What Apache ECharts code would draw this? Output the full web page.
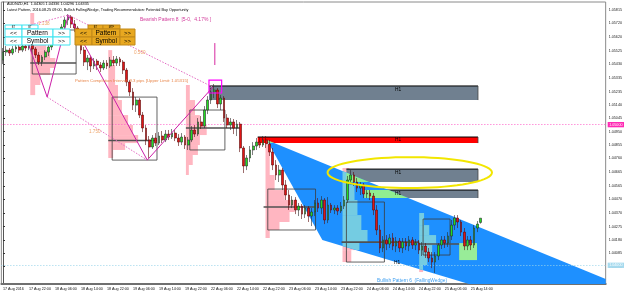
<!DOCTYPE html>
<html><head><meta charset="utf-8">
<script src="https://cdn.jsdelivr.net/npm/echarts@6/dist/echarts.min.js"></script>
<style>html,body{margin:0;padding:0;background:#fff}#c{width:625px;height:295px}</style>
</head><body><div id="c"></div>
<script>
const FONT = '"Liberation Sans", Arial, sans-serif';
// ---- axis data ----
const sessions = [['17 Aug',14,23],['18 Aug',0,23],['19 Aug',0,23],['22 Aug',0,23],['23 Aug',0,23],['24 Aug',0,23],['25 Aug',0,17]];
const tickLabels = ['17 Aug 2016','17 Aug 22:00','18 Aug 06:00','18 Aug 14:00','18 Aug 22:00','19 Aug 06:00','19 Aug 14:00','19 Aug 22:00','22 Aug 06:00','22 Aug 14:00','22 Aug 22:00','23 Aug 06:00','23 Aug 14:00','23 Aug 22:00','24 Aug 06:00','24 Aug 14:00','24 Aug 22:00','25 Aug 06:00','25 Aug 14:00'];
const yTickValues = [1.05815,1.05720,1.05620,1.05525,1.05430,1.05335,1.05235,1.05140,1.05045,1.04950,1.04855,1.04760,1.04665,1.04565,1.04470,1.04370,1.04275,1.04180,1.04085,1.03990];
const TOTAL_SLOTS = 186;
const Y_MIN = 1.03867, Y_MAX = 1.05872;

// ---- candles ----
const opens = [1.05459,1.05516,1.05530,1.05509,1.05538,1.05552,1.05530,1.05559,1.05545,1.05566,
1.05538,1.05495,1.05445,1.05481,1.05516,1.05552,1.05602,1.05651,1.05630,1.05694,
1.05744,1.05765,1.05715,1.05687,1.05616,1.05530,1.05445,1.05474,1.05417,1.05452,
1.05424,1.05403,1.05438,1.05417,1.05459,1.05438,1.05467,1.05445,1.05388,1.05303,
1.05232,1.05139,1.05175,1.05068,1.04976,1.04891,1.04841,1.04905,1.04869,1.04919,
1.04891,1.04933,1.04912,1.04940,1.04905,1.04876,1.04912,1.04855,1.04891,1.04962,
1.04933,1.05019,1.04990,1.05104,1.05175,1.05232,1.05246,1.05147,1.05189,1.05047,
1.04997,1.05019,1.04976,1.05004,1.04834,1.04706,1.04763,1.04820,1.04848,1.04876,
1.04855,1.04891,1.04862,1.04805,1.04713,1.04642,1.04677,1.04571,1.04500,1.04428,
1.04464,1.04393,1.04421,1.04364,1.04407,1.04350,1.04379,1.04443,1.04407,1.04464,
1.04322,1.04428,1.04393,1.04407,1.04386,1.04421,1.04464,1.04606,1.04642,1.04592,
1.04549,1.04571,1.04507,1.04514,1.04492,1.04393,1.04251,1.04123,1.04180,1.04151,
1.04194,1.04137,1.04172,1.04123,1.04165,1.04137,1.04180,1.04144,1.04158,1.04108,
1.04137,1.04094,1.04052,1.04023,1.04066,1.04144,1.04180,1.04158,1.04208,1.04286,
1.04336,1.04308,1.04236,1.04137,1.04180,1.04144,1.04265,1.04305];
const closes = [1.05516,1.05530,1.05509,1.05538,1.05552,1.05530,1.05559,1.05545,1.05566,1.05538,
1.05495,1.05445,1.05481,1.05516,1.05552,1.05602,1.05651,1.05630,1.05694,1.05744,
1.05765,1.05715,1.05687,1.05616,1.05530,1.05445,1.05474,1.05417,1.05452,1.05424,
1.05403,1.05438,1.05417,1.05459,1.05438,1.05467,1.05445,1.05388,1.05303,1.05232,
1.05139,1.05175,1.05068,1.04976,1.04891,1.04841,1.04905,1.04869,1.04919,1.04891,
1.04933,1.04912,1.04940,1.04905,1.04876,1.04912,1.04855,1.04891,1.04962,1.04933,
1.05019,1.04990,1.05104,1.05175,1.05232,1.05246,1.05147,1.05189,1.05047,1.04997,
1.05019,1.04976,1.05004,1.04834,1.04706,1.04763,1.04820,1.04848,1.04876,1.04855,
1.04891,1.04862,1.04805,1.04713,1.04642,1.04677,1.04571,1.04500,1.04428,1.04464,
1.04393,1.04421,1.04364,1.04407,1.04350,1.04379,1.04443,1.04407,1.04464,1.04322,
1.04428,1.04393,1.04407,1.04386,1.04421,1.04464,1.04606,1.04642,1.04592,1.04549,
1.04571,1.04507,1.04514,1.04492,1.04393,1.04251,1.04123,1.04180,1.04151,1.04194,
1.04137,1.04172,1.04123,1.04165,1.04137,1.04180,1.04144,1.04158,1.04108,1.04137,
1.04094,1.04052,1.04023,1.04066,1.04144,1.04180,1.04158,1.04208,1.04286,1.04336,
1.04308,1.04236,1.04137,1.04180,1.04144,1.04265,1.04293,1.04335];
const highs = [1.05545,1.05559,1.05545,1.05559,1.05573,1.05566,1.05580,1.05580,1.05587,1.05573,
1.05552,1.05516,1.05495,1.05530,1.05566,1.05616,1.05673,1.05680,1.05715,1.05765,
1.05786,1.05779,1.05744,1.05701,1.05637,1.05552,1.05495,1.05488,1.05474,1.05467,
1.05445,1.05459,1.05459,1.05481,1.05488,1.05488,1.05481,1.05459,1.05403,1.05317,
1.05260,1.05196,1.05189,1.05090,1.04997,1.04919,1.04926,1.04940,1.04947,1.04955,
1.04962,1.04962,1.04969,1.04962,1.04933,1.04940,1.04926,1.04912,1.04990,1.04997,
1.05047,1.05061,1.05132,1.05203,1.05260,1.05289,1.05260,1.05210,1.05203,1.05075,
1.05047,1.05040,1.05033,1.05019,1.04848,1.04784,1.04848,1.04876,1.04905,1.04912,
1.04919,1.04919,1.04891,1.04834,1.04748,1.04713,1.04692,1.04606,1.04535,1.04492,
1.04485,1.04443,1.04436,1.04428,1.04421,1.04407,1.04464,1.04478,1.04492,1.04478,
1.04485,1.04443,1.04428,1.04428,1.04450,1.04492,1.04635,1.04677,1.04663,1.04620,
1.04592,1.04585,1.04535,1.04535,1.04514,1.04428,1.04286,1.04208,1.04215,1.04222,
1.04229,1.04201,1.04194,1.04194,1.04194,1.04208,1.04201,1.04187,1.04180,1.04165,
1.04158,1.04123,1.04094,1.04094,1.04158,1.04208,1.04208,1.04236,1.04322,1.04357,
1.04357,1.04322,1.04265,1.04208,1.04208,1.04286,1.04315,1.04336];
const lows = [1.05431,1.05488,1.05488,1.05495,1.05516,1.05509,1.05516,1.05523,1.05530,1.05516,
1.05474,1.05424,1.05417,1.05459,1.05488,1.05530,1.05580,1.05602,1.05616,1.05673,
1.05708,1.05687,1.05658,1.05587,1.05502,1.05417,1.05388,1.05374,1.05395,1.05388,
1.05374,1.05388,1.05395,1.05403,1.05417,1.05417,1.05417,1.05360,1.05274,1.05203,
1.05104,1.05090,1.05047,1.04947,1.04855,1.04763,1.04827,1.04848,1.04855,1.04869,
1.04876,1.04891,1.04898,1.04883,1.04848,1.04855,1.04827,1.04820,1.04876,1.04912,
1.04919,1.04969,1.04976,1.05075,1.05147,1.05189,1.05118,1.05104,1.05019,1.04976,
1.04962,1.04933,1.04919,1.04805,1.04656,1.04677,1.04734,1.04784,1.04820,1.04834,
1.04841,1.04834,1.04777,1.04677,1.04606,1.04592,1.04535,1.04464,1.04393,1.04407,
1.04364,1.04350,1.04329,1.04336,1.04308,1.04279,1.04350,1.04379,1.04364,1.04293,
1.04300,1.04372,1.04364,1.04357,1.04372,1.04400,1.04443,1.04578,1.04564,1.04521,
1.04500,1.04478,1.04478,1.04464,1.04357,1.04215,1.04087,1.04094,1.04108,1.04123,
1.04108,1.04094,1.04094,1.04087,1.04108,1.04101,1.04116,1.04108,1.04080,1.04066,
1.04052,1.04023,1.03980,1.03945,1.04037,1.04116,1.04123,1.04130,1.04180,1.04251,
1.04265,1.04208,1.04108,1.04108,1.04108,1.04123,1.04236,1.04296];

// ---- overlays (x = bar index, y = price) ----
// volume profiles: anchor bar, rows [top price, bottom price, right bar]
const profiles = [
 {anchor:8.4, rows:[[1.05794,1.05673,9.6],[1.05673,1.05587,11.5],[1.05587,1.05530,13.3],[1.05530,1.05474,14.5],[1.05474,1.05403,16.1],[1.05403,1.05353,14.5],[1.05353,1.05282,11.5],[1.05282,1.05210,9.9]]},
 {anchor:32.4, rows:[[1.05530,1.05424,33.6],[1.05424,1.05282,34.5],[1.05282,1.05175,35.4],[1.05175,1.05068,36.6],[1.05068,1.04997,38.5],[1.04997,1.04926,40.0],[1.04926,1.04869,41.6],[1.04869,1.04820,37.6],[1.04820,1.04763,33.9]]},
 {anchor:56.3, rows:[[1.05282,1.05175,57.5],[1.05175,1.05068,59.1],[1.05068,1.04997,60.6],[1.04997,1.04926,62.7],[1.04926,1.04855,60.6],[1.04855,1.04784,60.0],[1.04784,1.04713,58.4],[1.04713,1.04642,57.2]]},
 {anchor:80.8, rows:[[1.04855,1.04642,82.1],[1.04642,1.04535,83.6],[1.04535,1.04464,86.7],[1.04464,1.04379,89.8],[1.04379,1.04308,88.2],[1.04308,1.04251,85.1],[1.04251,1.04194,82.1]]},
 {anchor:104.5, rows:[[1.04692,1.04571,106.6],[1.04571,1.04464,108.2],[1.04464,1.04357,109.1],[1.04357,1.04251,110.3],[1.04251,1.04165,112.2],[1.04165,1.04108,109.7],[1.04108,1.04023,107.2]]},
 {anchor:128.1, rows:[[1.04372,1.04286,129.6],[1.04286,1.04215,131.2],[1.04215,1.04144,133.3],[1.04144,1.04073,132.1],[1.04073,1.04002,130.6],[1.04002,1.03952,129.3]]}
];
const zones = [[63.4,146.2,1.05275,1.05175],[78.4,146.2,1.04912,1.04869],[105.7,146.2,1.04684,1.04592],[111.2,146.2,1.04535,1.04478]];
const zoneFill = ['#708090','#ff0000','#708090','#708090'];
const greenBox = [[140.4,145.9,1.04158,1.04037]];
const boxes = [[9.0,22.5,1.05673,1.05360],[33.6,47.4,1.05196,1.04748],[57.5,68.3,1.05104,1.04820],[81.5,96.2,1.04542,1.04251],[105.7,117.4,1.04450,1.04023],[129.3,137.6,1.04329,1.04073]];
const pocLines = [[8.4,22.5,1.05438],[32.4,47.4,1.04887],[56.3,72.9,1.04976],[80.2,96.2,1.04414],[104.2,128.1,1.04165],[128.1,140.4,1.04151]];
const wedge = [[81.2,1.04891],[185.5,1.03902],[185.5,1.03575],[98.3,1.04180]];
const pattern = [[6.0,1.05694],[13.6,1.05196],[20.1,1.05779],[44.4,1.04748],[64.6,1.05267]];
const patternDotted = [[[6.0,1.05694],[20.1,1.05779]],[[13.6,1.05196],[44.4,1.04748]],[[20.1,1.05779],[64.6,1.05267]]];
const completionBox = [[63.4,67.3,1.05317,1.05225]];
const pinkTick = [[65.2,1.05580],[65.2,1.05424]];
const ellipse = {center:[125.2,1.04659], rxBars:25.3, ryPrice:0.00110};
const levels = [1.05000, 1.04000];
const bidPrice = 1.04335;

// ---- build ----
const categories = [];
sessions.forEach(([d,h0,h1]) => { for (let h=h0; h<=h1; h++) categories.push(d+' '+String(h).padStart(2,'0')+':00'); });
const NBARS = categories.length;
while (categories.length < TOTAL_SLOTS) categories.push('slot '+categories.length);
const candles = opens.map((o,i)=>[o, closes[i], lows[i], highs[i]]);
const profileRows = [];
profiles.forEach(p => p.rows.forEach(r => profileRows.push([p.anchor, r[2], r[0], r[1]])));

function rectPts(api,x0,x1,t,b){const a=api.coord([x0,t]),c=api.coord([x1,b]);return [[a[0],a[1]],[c[0],a[1]],[c[0],c[1]],[a[0],c[1]]];}
function clipPoly(subject, clip){
  let area=0; for(let i=0;i<clip.length;i++){const p=clip[i],q=clip[(i+1)%clip.length];area+=p[0]*q[1]-q[0]*p[1];}
  const s = area>0?1:-1; let out = subject;
  for (let i=0;i<clip.length;i++){
    const a=clip[i], b=clip[(i+1)%clip.length]; const inp=out; out=[]; if(!inp.length) break;
    const ins=p=>s*((b[0]-a[0])*(p[1]-a[1])-(b[1]-a[1])*(p[0]-a[0]))>=0;
    const inter=(p,q)=>{const a1=b[1]-a[1],b1=a[0]-b[0],c1=a1*a[0]+b1*a[1];const a2=q[1]-p[1],b2=p[0]-q[0],c2=a2*p[0]+b2*p[1];const det=a1*b2-a2*b1;return [(b2*c1-b1*c2)/det,(a1*c2-a2*c1)/det];};
    for (let j=0;j<inp.length;j++){const cur=inp[j],prev=inp[(j+inp.length-1)%inp.length];const ci=ins(cur),pi=ins(prev);
      if(ci){if(!pi)out.push(inter(prev,cur));out.push(cur);}else if(pi)out.push(inter(prev,cur));}
  }
  return out;
}
const wedgePx = api => wedge.map(p=>api.coord(p));
function overlapItem(api, fill){
  const pts = clipPoly(rectPts(api,api.value(0),api.value(1),api.value(2),api.value(3)), wedgePx(api));
  if (pts.length<3) return null;
  return {type:'polygon', shape:{points:pts}, style:{fill}};
}
const base = {type:'custom', xAxisIndex:1, yAxisIndex:0, silent:true, clip:true};

const series = [
 Object.assign({}, base, {name:'profile', z:1, data:profileRows,
   renderItem:(p,api)=>({type:'polygon', shape:{points:rectPts(api,api.value(0),api.value(1),api.value(2),api.value(3))}, style:{fill:'#ffb6c1'}})}),
 Object.assign({}, base, {name:'zones', z:2, data:zones,
   renderItem:(p,api)=>{const pts=rectPts(api,api.value(0),api.value(1),api.value(2),api.value(3));
     return {type:'group', children:[{type:'polygon', shape:{points:pts}, style:{fill:zoneFill[p.dataIndex]}},
       {type:'line', shape:{x1:pts[0][0],y1:pts[0][1],x2:pts[1][0],y2:pts[1][1]}, style:{stroke:'#000',lineWidth:1}},
       {type:'line', shape:{x1:pts[1][0],y1:pts[1][1],x2:pts[2][0],y2:pts[2][1]}, style:{stroke:'#444',lineWidth:0.8}}]};}}),
 Object.assign({}, base, {name:'greenBox', z:2, data:greenBox,
   renderItem:(p,api)=>({type:'polygon', shape:{points:rectPts(api,api.value(0),api.value(1),api.value(2),api.value(3))}, style:{fill:'#98e898', stroke:'#7a9a7a', lineWidth:0.8}})}),
 Object.assign({}, base, {name:'wedge', z:3, data:[[0]],
   renderItem:(p,api)=>({type:'polygon', shape:{points:wedgePx(api)}, style:{fill:'#1e90ff'}})}),
 Object.assign({}, base, {name:'profileOverlap', z:4, data:profileRows, renderItem:(p,api)=>overlapItem(api,'#74cce2')}),
 Object.assign({}, base, {name:'zoneOverlap', z:4, data:zones, renderItem:(p,api)=>overlapItem(api,'#90ee90')}),
 Object.assign({}, base, {name:'greenOverlap', z:4, data:greenBox, renderItem:(p,api)=>overlapItem(api,'#98ec98')}),
 Object.assign({}, base, {name:'boxes', z:5, data:boxes,
   renderItem:(p,api)=>({type:'polygon', shape:{points:rectPts(api,api.value(0),api.value(1),api.value(2),api.value(3))}, style:{fill:'none', stroke:'#3c3c3c', lineWidth:0.8}})}),
 Object.assign({}, base, {name:'poc', z:5, data:pocLines,
   renderItem:(p,api)=>{const a=api.coord([api.value(0),api.value(2)]),b=api.coord([api.value(1),api.value(2)]);
     return {type:'line', shape:{x1:a[0],y1:a[1],x2:b[0],y2:b[1]}, style:{stroke:'#505050',lineWidth:1.6}};}}),
 {type:'candlestick', name:'AUDNZD', xAxisIndex:0, yAxisIndex:0, z:6, silent:true, barWidth:2.2, data:candles,
   itemStyle:{color:'#22dd22', color0:'#e01515', borderColor:'#2a2a2a', borderColor0:'#5a0a0a', borderWidth:0.6},
   markLine:{silent:true, symbol:['none','none'], animation:false,
     label:{position:'end', distance:2, fontSize:3.7, fontFamily:FONT, padding:[0.8,1.5,0.5,1.5]},
     data:[
       {yAxis:levels[0], lineStyle:{color:'#ff5fc8', type:[1,2], width:1}, label:{formatter:levels[0].toFixed(5), backgroundColor:'#ff2ab4', color:'#fff'}},
       {yAxis:levels[1], lineStyle:{color:'#98d4ea', type:[1,2], width:1}, label:{formatter:levels[1].toFixed(5), backgroundColor:'#a6daee', color:'#fff'}},
       {yAxis:bidPrice, lineStyle:{opacity:0}, label:{formatter:bidPrice.toFixed(5), backgroundColor:'#000', color:'#fff'}}
     ]}},
 {type:'line', xAxisIndex:1, yAxisIndex:0, z:7, silent:true, symbol:'none', data:pattern, lineStyle:{color:'#cc1fa8', width:1}},
 ...patternDotted.map(seg=>({type:'line', xAxisIndex:1, yAxisIndex:0, z:7, silent:true, symbol:'none', data:seg, lineStyle:{color:'#e46cc4', width:1, type:[1.5,1.5]}})),
 {type:'line', xAxisIndex:1, yAxisIndex:0, z:7, silent:true, symbol:'none', data:pinkTick, lineStyle:{color:'#d62aa0', width:1}},
 Object.assign({}, base, {name:'completion', z:7, data:completionBox,
   renderItem:(p,api)=>({type:'polygon', shape:{points:rectPts(api,api.value(0),api.value(1),api.value(2),api.value(3))}, style:{fill:'none', stroke:'#ff00ff', lineWidth:1.2}})}),
 Object.assign({}, base, {name:'ellipse', z:7, data:[ellipse.center],
   renderItem:(p,api)=>{const c=api.coord(ellipse.center);const rx=api.coord([ellipse.center[0]+ellipse.rxBars,ellipse.center[1]])[0]-c[0];
     const ry=c[1]-api.coord([ellipse.center[0],ellipse.center[1]+ellipse.ryPrice])[1];const pts=[];
     for(let k=0;k<72;k++){const t=k/72*Math.PI*2;pts.push([c[0]+rx*Math.cos(t),c[1]+ry*Math.sin(t)]);}
     return {type:'polygon', shape:{points:pts}, style:{fill:'none', stroke:'#f2e600', lineWidth:2}};}})
];

// ---- annotations / panel ----
const g = [];
function txt(x,y,text,size,fill,align){g.push({type:'text', z:100, x, y, style:{text, fontSize:size, fontFamily:FONT, fill, align:align||'left', verticalAlign:'middle'}});}
function btn(x,y,w,h,label,fill,stroke,size){
  g.push({type:'rect', z:100, shape:{x,y,width:w,height:h}, style:{fill, stroke, lineWidth:1}});
  g.push({type:'text', z:101, x:x+w/2, y:y+h/2+0.3, style:{text:label, fontSize:size, fontFamily:FONT, fill:'#000', align:'center', verticalAlign:'middle'}});
}
txt(7,3.6,'AUDNZD,H1  1.04305 1.04336 1.04296 1.04335',3.8,'#000');
txt(7,9.6,'Latest Pattern, 2016.08.25 09:00, Bullish FallingWedge, Trading Recommendation: Potential Buy Opportunity',3.75,'#000');
txt(140,19.5,'Bearish Pattern 8  [5-0,  4.17% ]',5,'#d33c9c');
txt(38,23.5,'1.138',4.6,'#eea56a');
txt(134,53,'0.500',4.6,'#eea56a');
txt(75,81,'Pattern Completion Interval: 9.3 pips [Upper Limit: 1.05315]',4.3,'#e8864a');
txt(89,132,'1.750',4.6,'#eea56a');
txt(377,281,'Bullish Pattern 6  (FallingWedge)',4.8,'#3f9ff0');
[[398,89.5],[398,140],[398,172.5],[398,193.5],[397,262.5]].forEach(([x,y])=>txt(x,y,'H1',4.8,'#000','center'));
btn(5,25,17,4,'BT','#fff','#3fe4f0',2.6); btn(22,25,16,4,'BT','#fff','#3fe4f0',2.6);
btn(5,29,17,8,'<<','#fff','#3fe4f0',6); btn(22,29,31,8,'Pattern','#fff','#3fe4f0',6.5); btn(53,29,17,8,'>>','#fff','#3fe4f0',6);
btn(5,37,17,8,'<<','#fff','#3fe4f0',6); btn(22,37,31,8,'Symbol','#fff','#3fe4f0',6.5); btn(53,37,17,8,'>>','#fff','#3fe4f0',6);
btn(88,25,15,4,'BT','#e8a820','#c08818',2.6); btn(103,25,17,4,'MTF','#e8a820','#c08818',2.6);
btn(75,29,17,8,'<<','#e8a820','#c08818',6); btn(92,29,28,8,'Pattern','#e8a820','#c08818',6.5); btn(120,29,15,8,'>>','#e8a820','#c08818',6);
btn(75,37,17,8,'<<','#e8a820','#c08818',6); btn(92,37,28,8,'Symbol','#e8a820','#c08818',6.5); btn(120,37,15,8,'>>','#e8a820','#c08818',6);

const chart = echarts.init(document.getElementById('c'), null, {renderer:'canvas'});
chart.setOption({
  animation:false, backgroundColor:'#fff',
  textStyle:{fontFamily:FONT},
  grid:{left:1, right:18, top:2, bottom:11, show:true, borderColor:'#8a8a8a', borderWidth:1},
  xAxis:[
    {type:'category', data:categories, boundaryGap:true,
     axisLine:{lineStyle:{color:'#707070', width:2}},
     axisTick:{interval:(i)=>i%8===0 && i<NBARS, alignWithLabel:true, length:2, lineStyle:{color:'#333'}},
     axisLabel:{interval:(i)=>i%8===0 && i<NBARS, formatter:(v,i)=>tickLabels[i/8]||'', align:'left', margin:2.5, fontSize:3.7, color:'#111', fontFamily:FONT},
     splitLine:{show:false}},
    {type:'value', min:-0.5, max:TOTAL_SLOTS-0.5, show:false}
  ],
  yAxis:[{type:'value', position:'right', min:Y_MIN, max:Y_MAX, scale:true,
     axisLine:{show:true, lineStyle:{color:'#555', width:1}},
     axisTick:{show:true, customValues:yTickValues, length:2, lineStyle:{color:'#333'}},
     axisLabel:{customValues:yTickValues, formatter:v=>v.toFixed(5), margin:3, fontSize:3.7, color:'#222', fontFamily:FONT},
     splitLine:{show:false}}],
  series,
  graphic:g
});
</script>
</body></html>
